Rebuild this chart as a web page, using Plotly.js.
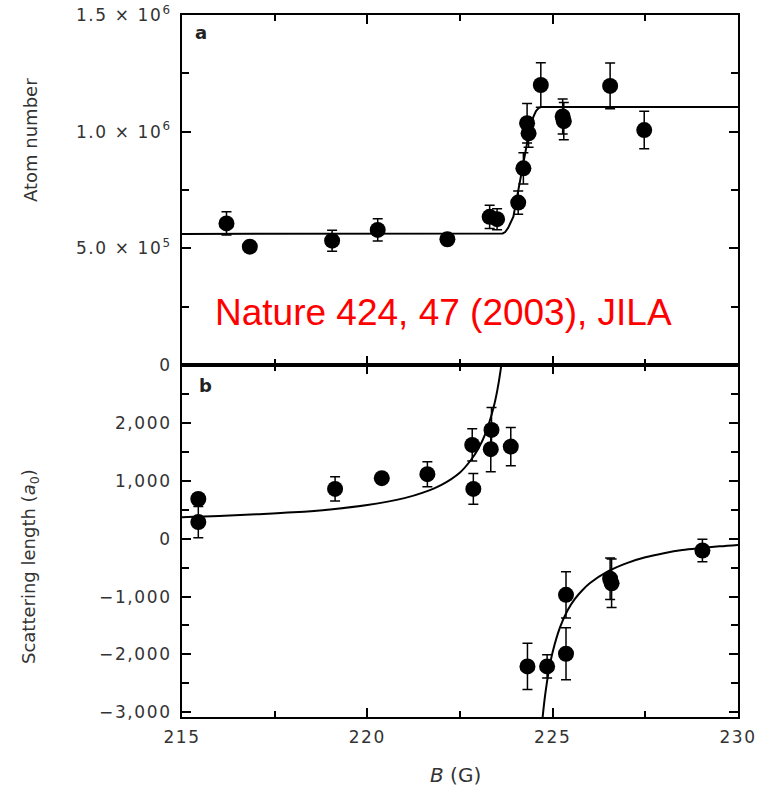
<!DOCTYPE html>
<html>
<head>
<meta charset="utf-8">
<script src="https://cdn.plot.ly/plotly-3.0.1.min.js"></script>
<style>
  html, body { margin: 0; padding: 0; background: #fff; }
  #chart { width: 772px; height: 789px; }
  .xtick text, .x2tick text, .ytick text, .y2tick text { letter-spacing: 1.6px; }
</style>
</head>
<body>
<div id="chart"></div>
<script>
// ---- Panel a: atom number vs B ----
const atomB     = [216.2, 216.83, 219.05, 220.28, 222.16, 223.3, 223.5, 224.07, 224.21, 224.31, 224.35, 224.68, 225.27, 225.3, 226.55, 227.47];
const atomN     = [607000, 507000, 533000, 579000, 539000, 635000, 625000, 696000, 843000, 1036000, 993000, 1200000, 1065000, 1045000, 1196000, 1007000];
const atomErr   = [50000, 12000, 45000, 48000, 12000, 50000, 45000, 50000, 67000, 85000, 60000, 95000, 75000, 80000, 98000, 80000];
const atomFitB  = [215, 223.55, 223.65, 223.72, 223.8, 223.94, 224.1, 224.21, 224.35, 224.48, 224.55, 224.62, 224.7, 230];
const atomFitN  = [562000, 562000, 564000, 570000, 588000, 636000, 770000, 870000, 985000, 1064000, 1088000, 1101000, 1106000, 1106000];

// ---- Panel b: scattering length vs B ----
const scatB     = [215.44, 215.44, 219.13, 220.39, 221.62, 222.83, 222.86, 223.35, 223.33, 223.87, 224.32, 224.85, 225.36, 225.36, 226.55, 226.59, 229.04];
const scatA     = [690, 290, 865, 1050, 1119, 1626, 865, 1886, 1552, 1597, -2209, -2209, -969, -1990, -690, -770, -202];
const scatErr   = [60, 270, 210, 70, 215, 280, 265, 390, 390, 330, 400, 200, 400, 450, 360, 420, 195];
const fitUpB    = [215, 216, 217, 218, 219, 220, 221, 221.5, 222, 222.5, 222.8, 223, 223.2, 223.4, 223.5, 223.6, 223.65];
const fitUpA    = [375, 395, 425, 460, 510, 585, 705, 800, 935, 1150, 1370, 1570, 1845, 2260, 2550, 2940, 3200];
const fitLoB    = [224.7, 224.8, 224.9, 225, 225.2, 225.4, 225.6, 225.8, 226, 226.5, 227, 227.5, 228, 228.5, 229, 229.5, 230];
const fitLoA    = [-3270, -2690, -2270, -1960, -1530, -1240, -1040, -890, -770, -560, -420, -320, -250, -195, -160, -130, -105];

// ---- Tick labels ----
const atomTickVals = [0, 500000, 1000000, 1500000];
const atomTickText = ['0', '5.0 × 10<sup>5</sup>', '1.0 × 10<sup>6</sup>', '1.5 × 10<sup>6</sup>'];
const scatTickVals = [-3000, -2000, -1000, 0, 1000, 2000];
const scatTickText = ['−3,000', '−2,000', '−1,000', '0', '1,000', '2,000'];
const bTickVals    = [215, 220, 225, 230];
const bTickText    = ['215', '220', '225', '230'];

const fontFam = 'DejaVu Sans, Arial, sans-serif';
const tickFont = {family: fontFam, size: 17, color: '#333'};
const markerStyle = {color: 'black', size: 16, symbol: 'circle'};
const errStyle = (arr) => ({type: 'data', array: arr, visible: true, color: 'black', thickness: 1.5, width: 5});

const traces = [
  {x: atomFitB, y: atomFitN, mode: 'lines', line: {color: 'black', width: 2}, xaxis: 'x', yaxis: 'y', hoverinfo: 'skip'},
  {x: atomB, y: atomN, mode: 'markers', marker: markerStyle, error_y: errStyle(atomErr), xaxis: 'x', yaxis: 'y'},
  {x: fitUpB, y: fitUpA, mode: 'lines', line: {color: 'black', width: 2, shape: 'spline'}, xaxis: 'x2', yaxis: 'y2', hoverinfo: 'skip'},
  {x: fitLoB, y: fitLoA, mode: 'lines', line: {color: 'black', width: 2, shape: 'spline'}, xaxis: 'x2', yaxis: 'y2', hoverinfo: 'skip'},
  {x: scatB, y: scatA, mode: 'markers', marker: markerStyle, error_y: errStyle(scatErr), xaxis: 'x2', yaxis: 'y2'}
];

const xCommon = {
  range: [215, 230], tickmode: 'array', tickvals: bTickVals, ticktext: bTickText,
  ticks: 'inside', ticklen: 9, tickwidth: 2, tickcolor: 'black',
  minor: {tickmode: 'linear', tick0: 215, dtick: 2.5, ticks: 'inside', ticklen: 6, tickwidth: 2, tickcolor: 'black'},
  showline: true, linecolor: 'black', linewidth: 2, mirror: 'ticks',
  showgrid: false, zeroline: false, tickfont: tickFont, ticklabelstandoff: 4
};
const yAtom = {
  range: [0, 1500000], tickmode: 'array', tickvals: atomTickVals, ticktext: atomTickText,
  ticks: 'inside', ticklen: 9, tickwidth: 2, tickcolor: 'black',
  minor: {tickmode: 'linear', tick0: 0, dtick: 250000, ticks: 'inside', ticklen: 7, tickwidth: 2, tickcolor: 'black'},
  showline: true, linecolor: 'black', linewidth: 2, mirror: 'ticks',
  showgrid: false, zeroline: false, tickfont: tickFont, ticklabelstandoff: 5
};
const yScat = {
  range: [-3085, 3010], tickmode: 'array', tickvals: scatTickVals, ticktext: scatTickText,
  ticks: 'inside', ticklen: 9, tickwidth: 2, tickcolor: 'black',
  minor: {tickmode: 'linear', tick0: 0, dtick: 500, ticks: 'inside', ticklen: 7, tickwidth: 2, tickcolor: 'black'},
  showline: true, linecolor: 'black', linewidth: 2, mirror: 'ticks',
  showgrid: false, zeroline: false, tickfont: tickFont, ticklabelstandoff: 5
};

const layout = {
  width: 772, height: 789,
  margin: {l: 182, r: 34, t: 15, b: 72},
  paper_bgcolor: 'white', plot_bgcolor: 'white',
  showlegend: false,
  font: {family: fontFam, color: '#333'},
  xaxis:  Object.assign({}, xCommon, {anchor: 'y', showticklabels: false}),
  xaxis2: Object.assign({}, xCommon, {anchor: 'y2', showticklabels: true}),
  yaxis:  Object.assign({}, yAtom, {domain: [0.5014, 1], anchor: 'x'}),
  yaxis2: Object.assign({}, yScat, {domain: [0, 0.5014], anchor: 'x2'}),
  annotations: [
    {text: 'Atom number', xref: 'paper', yref: 'paper', x: -0.2734, y: 0.8219, textangle: -90,
     showarrow: false, xanchor: 'center', yanchor: 'middle', font: {family: fontFam, size: 18, color: '#333'}},
    {text: 'Scattering length (<i>a</i><sub>0</sub>)', xref: 'paper', yref: 'paper', x: -0.2734, y: 0.2151, textangle: -90,
     showarrow: false, xanchor: 'center', yanchor: 'middle', font: {family: fontFam, size: 18, color: '#333'}},
    {text: '<i>B</i> (G)', xref: 'paper', yref: 'paper', x: 0.4928, y: -0.0826,
     showarrow: false, xanchor: 'center', yanchor: 'middle', font: {family: fontFam, size: 20, color: '#333'}},
    {text: '<b>a</b>', xref: 'paper', yref: 'paper', x: 0.0342, y: 0.9744,
     showarrow: false, xanchor: 'center', yanchor: 'middle', font: {family: fontFam, size: 18, color: '#222'}},
    {text: '<b>b</b>', xref: 'paper', yref: 'paper', x: 0.0414, y: 0.4729,
     showarrow: false, xanchor: 'center', yanchor: 'middle', font: {family: fontFam, size: 18, color: '#222'}},
    {text: 'Nature 424, 47 (2003), JILA', xref: 'paper', yref: 'paper', x: 0.4712, y: 0.5769,
     showarrow: false, xanchor: 'center', yanchor: 'middle', font: {family: 'Liberation Sans, Arial, sans-serif', size: 37, color: '#ff0000'}}
  ]
};

Plotly.newPlot('chart', traces, layout, {staticPlot: true, displayModeBar: false});
</script>
</body>
</html>
